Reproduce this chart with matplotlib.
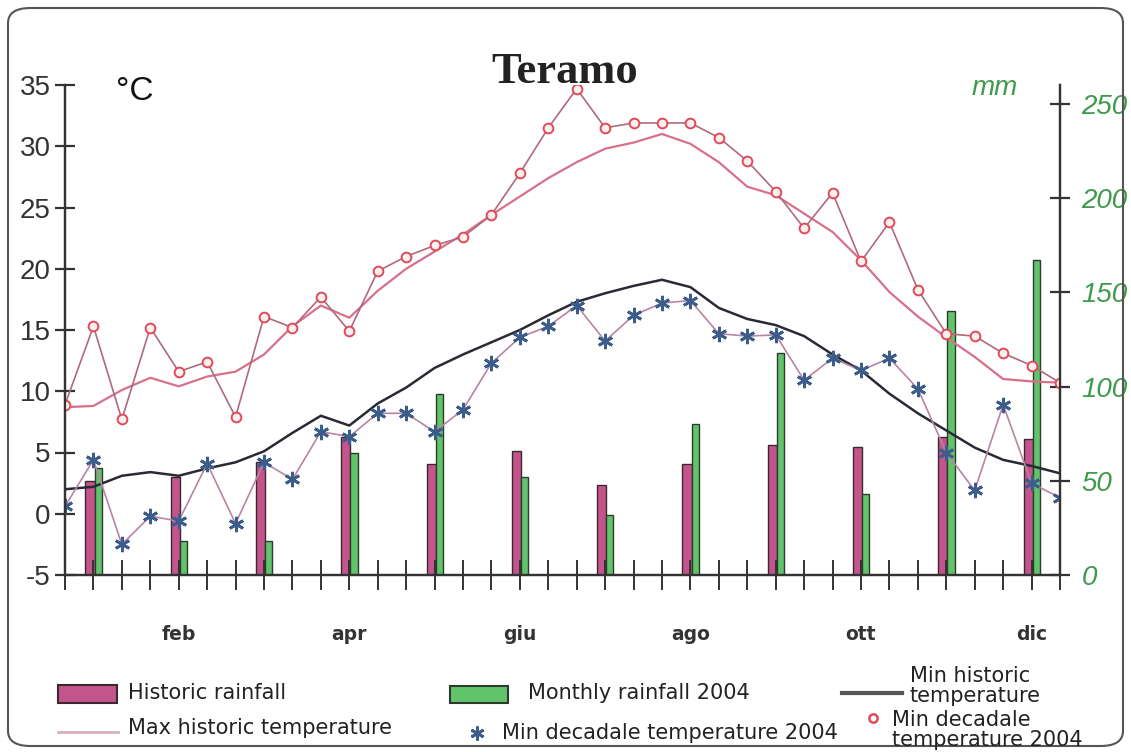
import numpy as np
import matplotlib
matplotlib.use("Agg")
import matplotlib.pyplot as plt
from matplotlib.patches import Rectangle, FancyBboxPatch
from matplotlib.lines import Line2D

plt.rcParams["axes.unicode_minus"] = False

# decades of the year (36), months labelled every other one
decade = np.arange(36)
month_pos = [4, 10, 16, 22, 28, 34]
month_lab = ["feb", "apr", "giu", "ago", "ott", "dic"]
bar_pos = np.arange(1, 36, 3)

# rainfall (mm)
hist_rain = [50, 52, 60, 73, 59, 66, 48, 59, 69, 68, 73, 72]
rain_2004 = [57, 18, 18, 65, 96, 52, 32, 80, 118, 43, 140, 167]

# temperatures (degC), one per decade
max_hist = [8.7, 8.8, 10.1, 11.1, 10.4, 11.2, 11.6, 13.0, 15.3, 17.0, 16.0, 18.2,
            20.0, 21.4, 22.8, 24.4, 25.9, 27.4, 28.7, 29.8, 30.3, 31.0, 30.2, 28.7,
            26.7, 26.0, 24.5, 23.0, 20.7, 18.1, 16.1, 14.4, 12.8, 11.0, 10.8, 10.7]
max_dec = [8.9, 15.3, 7.7, 15.2, 11.6, 12.4, 7.9, 16.1, 15.2, 17.7, 14.9, 19.8,
           21.0, 21.9, 22.6, 24.4, 27.8, 31.5, 34.7, 31.5, 31.9, 31.9, 31.9, 30.7,
           28.8, 26.3, 23.3, 26.2, 20.6, 23.8, 18.3, 14.7, 14.5, 13.1, 12.1, 10.7]
min_hist = [2.0, 2.2, 3.1, 3.4, 3.1, 3.7, 4.2, 5.1, 6.6, 8.0, 7.2, 9.0,
            10.3, 11.9, 13.0, 14.0, 15.0, 16.2, 17.3, 18.0, 18.6, 19.1, 18.5, 16.8,
            15.9, 15.4, 14.5, 13.0, 11.7, 9.8, 8.2, 6.8, 5.4, 4.4, 3.9, 3.3]
min_dec = [0.6, 4.4, -2.5, -0.2, -0.6, 4.1, -0.8, 4.2, 2.8, 6.7, 6.3, 8.2,
           8.2, 6.7, 8.5, 12.3, 14.4, 15.3, 17.0, 14.1, 16.2, 17.2, 17.4, 14.7,
           14.5, 14.6, 10.9, 12.7, 11.7, 12.7, 10.2, 5.0, 1.9, 8.9, 2.5, 1.3]

W, H = 1131, 752
fig = plt.figure(figsize=(W / 100, H / 100), dpi=100)

def px(x, y):
    return x / W, 1 - y / H

tickfont = ["Liberation Sans", "DejaVu Sans"]
green_txt = "#3f9a4c"
axc = "#333333"

ax = fig.add_axes([65 / W, 1 - 575 / H, 995 / W, 490 / H])
ax2 = ax.twinx()
ax.set_zorder(ax2.get_zorder() + 1)
ax.patch.set_visible(False)

# bars on the mm axis
ax2.bar(bar_pos - 0.28, hist_rain, width=0.32, align="edge",
        color="#c4558c", edgecolor="#3a2a30", linewidth=1.0)
ax2.bar(bar_pos + 0.04, rain_2004, width=0.25, align="edge",
        color="#62c46a", edgecolor="#2e3a2e", linewidth=1.0)

# temperature lines
ax.plot(decade, max_hist, color="#d8708c", lw=1.6)
ax.plot(decade, max_dec, color="#b06a7c", lw=1.2, marker="o", ms=7,
        mfc="#fff0f0", mec="#e04a5a", mew=1.4)
ax.plot(decade, min_hist, color="#2a2a35", lw=1.8)
ax.plot(decade, min_dec, color="#b884a4", lw=1.2, marker=(6, 2, 0), ms=11,
        mec="#3c5c8c", mew=2.0)

ax.set_xlim(0, 35)
ax.set_ylim(-5, 35)
ax2.set_ylim(0, 260)

for a in (ax, ax2):
    a.spines["top"].set_visible(False)
    for s in ("left", "right", "bottom"):
        a.spines[s].set_color(axc)
        a.spines[s].set_linewidth(1.6)

ax.xaxis.remove_overlapping_locs = False
ax.set_xticks(decade)
ax.set_xticklabels([])
ax.set_xticks(month_pos, minor=True)
ax.set_xticklabels(month_lab, minor=True, fontsize=13.5, fontweight="bold",
                   family=["DejaVu Sans"], color="#333333")
ax.tick_params(axis="x", which="major", direction="inout", length=22,
               width=1.4, color=axc)
ax.tick_params(axis="x", which="minor", length=0, pad=36)

ax.set_yticks(np.arange(-5, 36, 5))
ax.tick_params(axis="y", direction="inout", length=15, width=1.6, color=axc,
               pad=3, labelsize=20, labelcolor="#333333")
for t in ax.get_yticklabels():
    t.set_family(tickfont)

ax2.set_yticks(np.arange(0, 251, 50))
ax2.tick_params(axis="y", direction="inout", length=15, width=1.6, color=axc,
                pad=8, labelsize=20, labelcolor=green_txt)
for t in ax2.get_yticklabels():
    t.set_family(tickfont)
    t.set_style("italic")

# titles and units
fig.text(*px(565, 72), "Teramo", ha="center", va="center", fontsize=32,
         fontweight="bold", family=["Liberation Serif", "DejaVu Serif"], color="#222222")
fig.text(*px(135, 92), "°C", ha="center", va="center", fontsize=24,
         family=["Liberation Sans", "DejaVu Sans"], color="#111111")
fig.text(*px(995, 88), "mm", ha="center", va="center", fontsize=20,
         style="italic", family=tickfont, color=green_txt)

# legend drawn by hand
lfs = 15
lf = ["DejaVu Sans"]
def ltext(x, y, s):
    fig.text(*px(x, y), s, ha="left", va="center", fontsize=lfs, family=lf,
             color="#222222", linespacing=0.95)

x0, y0 = px(58, 703)
fig.add_artist(Rectangle((x0, y0), 59 / W, 18 / H, transform=fig.transFigure,
                         facecolor="#c4558c", edgecolor="#3a2a30", lw=1.5))
ltext(128, 693, "Historic rainfall")
x0, y0 = px(450, 703)
fig.add_artist(Rectangle((x0, y0), 58 / W, 17 / H, transform=fig.transFigure,
                         facecolor="#62c46a", edgecolor="#2e3a2e", lw=1.5))
ltext(528, 693, "Monthly rainfall 2004")
fig.add_artist(Line2D([842 / W, 902 / W], [1 - 693 / H] * 2,
                      transform=fig.transFigure, color="#555555", lw=3))
ltext(910, 686, "Min historic\ntemperature")

fig.add_artist(Line2D([58 / W, 118 / W], [1 - 732 / H] * 2,
                      transform=fig.transFigure, color="#d8b0c0", lw=2.0))
ltext(128, 728, "Max historic temperature")
fig.add_artist(Line2D([477 / W], [1 - 733 / H], transform=fig.transFigure,
                      marker=(6, 2, 0), ms=10, mec="#3c5c8c", mew=2, ls="none"))
ltext(502, 733, "Min decadale temperature 2004")
fig.add_artist(Line2D([873 / W], [1 - 718 / H], transform=fig.transFigure,
                      marker="o", ms=6, mfc="white", mec="#e04a5a", mew=1.8, ls="none"))
ltext(892, 730, "Min decadale\ntemperature 2004")

# rounded frame
fig.add_artist(FancyBboxPatch((8 / W, 6 / H), 1115 / W, 738 / H,
                              boxstyle="round,pad=0,rounding_size=0.02",
                              transform=fig.transFigure, facecolor="none",
                              edgecolor="#555555", lw=1.5))

fig.savefig("out.png", dpi=100)
